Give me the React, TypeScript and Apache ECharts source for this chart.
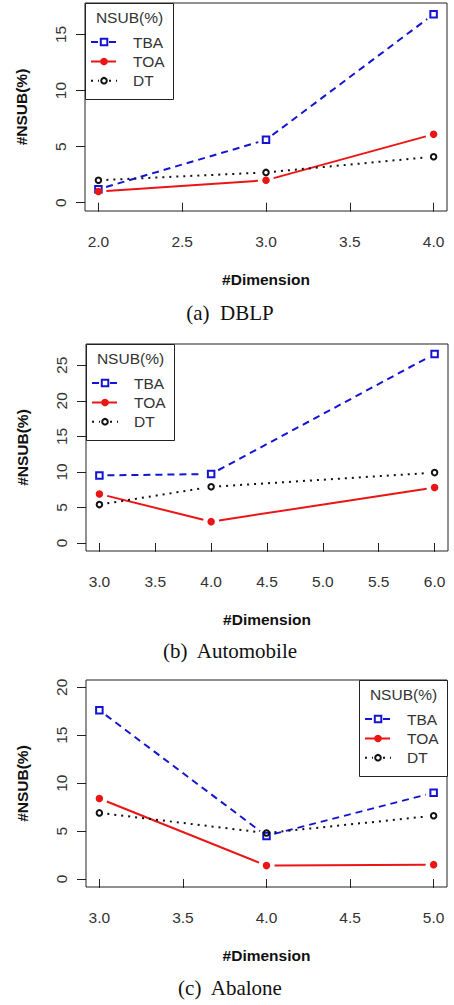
import React, { useEffect, useRef } from "react";
import * as echarts from "echarts";

// ---- data ----
const dblpDims = [2.0, 3.0, 4.0];
const dblpTBA = [1.2, 5.6, 16.8];
const dblpTOA = [1.0, 2.0, 6.1];
const dblpDT = [2.0, 2.7, 4.1];

const autoDims = [3.0, 4.0, 6.0];
const autoTBA = [9.5, 9.7, 26.6];
const autoTOA = [6.9, 3.0, 7.8];
const autoDT = [5.4, 7.9, 9.9];

const abaDims = [3.0, 4.0, 5.0];
const abaTBA = [17.6, 4.5, 9.0];
const abaTOA = [8.4, 1.4, 1.5];
const abaDT = [6.9, 4.8, 6.6];

const dblpXTicks = [2.0, 2.5, 3.0, 3.5, 4.0];
const autoXTicks = [3.0, 3.5, 4.0, 4.5, 5.0, 5.5, 6.0];
const abaXTicks = [3.0, 3.5, 4.0, 4.5, 5.0];
const dblpYTicks = [0, 5, 10, 15];
const autoYTicks = [0, 5, 10, 15, 20, 25];
const abaYTicks = [0, 5, 10, 15, 20];

const seriesNames = ["TBA", "TOA", "DT"];
const captions = ["(a)  DBLP", "(b)  Automobile", "(c)  Abalone"];
const legendTitle = "NSUB(%)";
const xName = "#Dimension";
const yName = "#NSUB(%)";

const BLUE = "#1414d2";
const RED = "#ec1515";
const BLACK = "#111111";
const SANS = "Liberation Sans, Arial, sans-serif";
const SERIF = "Liberation Serif, Times New Roman, serif";

const styles: any = {
  TBA: { color: BLUE, dash: [7, 5], symbol: "rect", size: 6.5, fill: "rgba(0,0,0,0)", border: 2 },
  TOA: { color: RED, dash: null, symbol: "circle", size: 7.5, fill: RED, border: 0 },
  DT: { color: BLACK, dash: [2, 5], symbol: "circle", size: 5.5, fill: "rgba(0,0,0,0)", border: 2 },
};

const charts = [
  {
    dims: dblpDims, vals: [dblpTBA, dblpTOA, dblpDT], xTicks: dblpXTicks, yTicks: dblpYTicks,
    grid: { left: 85, top: 3, width: 362, height: 208 },
    xMin: 1.92, xMax: 4.08, yMin: -0.74, yMax: 17.8,
    legend: { x: 85, y: 3 }, caption: { x: 230, y: 313 },
  },
  {
    dims: autoDims, vals: [autoTBA, autoTOA, autoDT], xTicks: autoXTicks, yTicks: autoYTicks,
    grid: { left: 86, top: 344, width: 362, height: 207 },
    xMin: 2.88, xMax: 6.12, yMin: -1.13, yMax: 28.0,
    legend: { x: 86, y: 344 }, caption: { x: 230, y: 651 },
  },
  {
    dims: abaDims, vals: [abaTBA, abaTOA, abaDT], xTicks: abaXTicks, yTicks: abaYTicks,
    grid: { left: 86, top: 680, width: 361, height: 207 },
    xMin: 2.92, xMax: 5.08, yMin: -0.83, yMax: 20.76,
    legend: { x: 359, y: 680 }, caption: { x: 230, y: 988 },
  },
];

function segments(xs: number[], ys: number[]) {
  return xs.slice(0, -1).map((x, i) => [x, ys[i], xs[i + 1], ys[i + 1]]);
}

function legendGroup(x: number, y: number) {
  const W = 88, H = 96;
  const rows = [39, 58.5, 77.7];
  const children: any[] = [
    { type: "rect", shape: { x: 0.5, y: 0.5, width: W, height: H }, style: { fill: "#fff", stroke: "#222", lineWidth: 1 } },
    {
      type: "text",
      style: { text: legendTitle, x: W / 2 + 0.5, y: 14, align: "center", verticalAlign: "middle", textAlign: "center", textVerticalAlign: "middle", font: `15.5px ${SANS}`, fill: "#333" },
    },
  ];
  seriesNames.forEach((n, i) => {
    const s = styles[n];
    const ry = rows[i];
    if (n === "TOA") {
      children.push({ type: "line", shape: { x1: 6, y1: ry, x2: 31, y2: ry }, style: { stroke: s.color, lineWidth: 2 } });
      children.push({ type: "circle", shape: { cx: 19, cy: ry, r: 3.8 }, style: { fill: s.color } });
    } else {
      children.push({ type: "line", shape: { x1: 6, y1: ry, x2: 14, y2: ry }, style: { stroke: s.color, lineWidth: 2, lineDash: s.dash } });
      children.push({ type: "line", shape: { x1: 24, y1: ry, x2: 32, y2: ry }, style: { stroke: s.color, lineWidth: 2, lineDash: s.dash } });
      if (n === "TBA") {
        children.push({ type: "rect", shape: { x: 15.8, y: ry - 3.2, width: 6.5, height: 6.5 }, style: { fill: "none", stroke: s.color, lineWidth: 2 } });
      } else {
        children.push({ type: "circle", shape: { cx: 19, cy: ry, r: 2.8 }, style: { fill: "none", stroke: s.color, lineWidth: 2 } });
      }
    }
    children.push({
      type: "text",
      style: { text: n, x: 48, y: ry, align: "left", verticalAlign: "middle", textAlign: "left", textVerticalAlign: "middle", font: `15.5px ${SANS}`, fill: "#333" },
    });
  });
  return { type: "group", x, y, children, z: 100 };
}

export default function App() {
  const ref = useRef<HTMLDivElement>(null);
  useEffect(() => {
    if (!ref.current) return;
    const chart = echarts.init(ref.current, null, { renderer: "svg" });

    const grids: any[] = [];
    const xAxes: any[] = [];
    const yAxes: any[] = [];
    const series: any[] = [];
    const graphics: any[] = [];

    charts.forEach((c, gi) => {
      grids.push({ ...c.grid, show: true, borderColor: "#222", borderWidth: 1, backgroundColor: "#fff", containLabel: false });
      xAxes.push({
        type: "value", gridIndex: gi, min: c.xMin, max: c.xMax,
        axisLine: { show: false },
        axisTick: { show: true, inside: false, length: 9, customValues: c.xTicks, lineStyle: { color: "#222" } },
        axisLabel: { show: true, margin: 22, customValues: c.xTicks, formatter: (v: number) => v.toFixed(1), fontSize: 15.5, fontFamily: SANS, color: "#333" },
        splitLine: { show: false },
        name: xName, nameLocation: "middle", nameGap: 60,
        nameTextStyle: { fontSize: 15.5, fontWeight: "bold", fontFamily: SANS, color: "#111" },
      });
      yAxes.push({
        type: "value", gridIndex: gi, min: c.yMin, max: c.yMax,
        axisLine: { show: false },
        axisTick: { show: true, inside: false, length: 9, customValues: c.yTicks, lineStyle: { color: "#222" } },
        axisLabel: { show: true, rotate: 90, margin: 17, customValues: c.yTicks, formatter: (v: number) => String(v), fontSize: 15.5, fontFamily: SANS, color: "#333" },
        splitLine: { show: false },
        name: yName, nameLocation: "middle", nameGap: 56,
        nameTextStyle: { fontSize: 15.5, fontWeight: "bold", fontFamily: SANS, color: "#111" },
      });

      seriesNames.forEach((n, si) => {
        const s = styles[n];
        const ys = c.vals[si];
        series.push({
          type: "custom", name: n, xAxisIndex: gi, yAxisIndex: gi,
          data: segments(c.dims, ys),
          encode: { x: [0, 2], y: [1, 3] },
          z: 2,
          renderItem: (params: any, api: any) => {
            const a = api.coord([api.value(0), api.value(1)]);
            const b = api.coord([api.value(2), api.value(3)]);
            const dx = b[0] - a[0], dy = b[1] - a[1];
            const len = Math.sqrt(dx * dx + dy * dy);
            const g = 8;
            if (len <= 2 * g) return null;
            const ux = dx / len, uy = dy / len;
            const st: any = { stroke: s.color, lineWidth: 2, fill: "none" };
            if (s.dash) st.lineDash = s.dash;
            return {
              type: "line",
              shape: { x1: a[0] + ux * g, y1: a[1] + uy * g, x2: b[0] - ux * g, y2: b[1] - uy * g },
              style: st,
            };
          },
        });
        series.push({
          type: "scatter", name: n, xAxisIndex: gi, yAxisIndex: gi,
          data: c.dims.map((x, i) => [x, ys[i]]),
          symbol: s.symbol, symbolSize: s.size, z: 5,
          itemStyle: { color: s.fill, borderColor: s.color, borderWidth: s.border, opacity: 1 },
          emphasis: { disabled: true },
        });
      });

      graphics.push(legendGroup(c.legend.x, c.legend.y));
      graphics.push({
        type: "text", z: 100,
        style: { text: captions[gi], x: c.caption.x, y: c.caption.y, align: "center", verticalAlign: "middle", textAlign: "center", textVerticalAlign: "middle", font: `21px ${SERIF}`, fill: "#111" },
      });
    });

    chart.setOption({
      animation: false,
      backgroundColor: "#fff",
      grid: grids,
      xAxis: xAxes,
      yAxis: yAxes,
      series,
      graphic: graphics,
    });
    return () => chart.dispose();
  }, []);
  return <div ref={ref} style={{ position: "fixed", left: 0, top: 0, width: 454, height: 1005 }} />;
}
